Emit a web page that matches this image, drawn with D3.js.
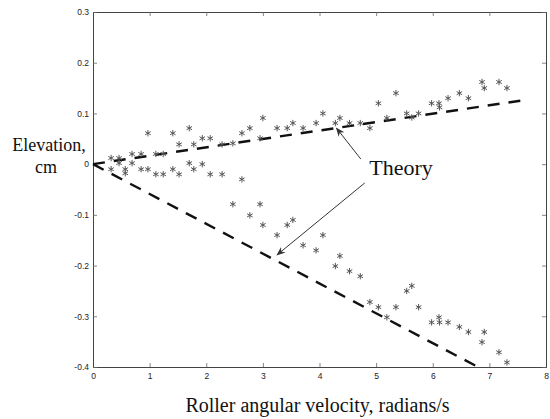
<!DOCTYPE html>
<html>
<head>
<meta charset="utf-8">
<script src="https://cdn.jsdelivr.net/npm/d3@7"></script>
<style>
  body { margin: 0; background: #fff; }
  .tick text { font-family: "Liberation Sans", Arial, sans-serif; font-size: 8.5px; fill: #222; }
  .lbl { font-family: "Liberation Serif", "Times New Roman", serif; fill: #111; }
</style>
</head>
<body>
<svg id="chart" width="550" height="419"></svg>
<script>
// Measured roller velocities (radians/s)
var velocity = [0.32, 0.46, 0.57, 0.69, 0.85, 0.97, 1.11, 1.24, 1.41, 1.52,
                1.70, 1.78, 1.93, 2.07, 2.28, 2.47, 2.63, 2.77, 2.95, 3.00,
                3.25, 3.43, 3.53, 3.71, 3.94, 4.06, 4.28, 4.36, 4.53, 4.72,
                4.89, 5.04, 5.19, 5.35, 5.54, 5.63, 5.75, 5.98, 6.11, 6.12,
                6.27, 6.47, 6.63, 6.87, 6.91, 7.17, 7.31];

// Elevation of the upper branch (cm)
var upperElevation = [0.012, 0.012, -0.010, 0.020, 0.020, 0.061, 0.020, 0.020, 0.061, 0.039,
                      0.071, 0.039, 0.051, 0.051, 0.039, 0.041, 0.061, 0.071, 0.051, 0.091,
                      0.071, 0.071, 0.081, 0.071, 0.081, 0.100, 0.081, 0.091, 0.081, 0.081,
                      0.071, 0.120, 0.091, 0.140, 0.100, 0.092, 0.100, 0.120, 0.120, 0.112,
                      0.130, 0.140, 0.130, 0.162, 0.150, 0.162, 0.150];

// Elevation of the lower branch (cm)
var lowerElevation = [-0.010, 0.002, -0.018, 0.002, -0.010, -0.010, -0.020, -0.020, -0.010, -0.020,
                      0.002, -0.010, 0.000, -0.020, -0.020, -0.079, -0.030, -0.101, -0.079, -0.120,
                      -0.140, -0.120, -0.110, -0.160, -0.170, -0.140, -0.201, -0.181, -0.211, -0.221,
                      -0.272, -0.282, -0.302, -0.282, -0.250, -0.240, -0.282, -0.312, -0.302, -0.312,
                      -0.312, -0.321, -0.331, -0.351, -0.331, -0.371, -0.391];

// Theory lines
var theoryUpperX = [0, 7.6];
var theoryUpperY = [0, 0.126];
var theoryLowerX = [0, 6.8];
var theoryLowerY = [0, -0.4];

// Tick values
var xTicks = [0, 1, 2, 3, 4, 5, 6, 7, 8];
var yTicks = [-0.4, -0.3, -0.2, -0.1, 0, 0.1, 0.2, 0.3];
var yTickLabels = ["-0.4", "-0.3", "-0.2", "-0.1", "0", "0.1", "0.2", "0.3"];

// Annotation: label and arrows (data coordinates)
var theoryLabel = { text: "Theory", x: 4.88, y: -0.022 };
var arrows = [
  { from: [4.73, 0.010], to: [4.3, 0.071] },
  { from: [4.80, -0.037], to: [3.25, -0.179] }
];

var margin = {top: 12, right: 4, bottom: 52, left: 93},
    width = 550 - margin.left - margin.right,
    height = 419 - margin.top - margin.bottom;

var x = d3.scaleLinear().domain([0, 8]).range([0, width]);
var y = d3.scaleLinear().domain([-0.4, 0.3]).range([height, 0]);

var svg = d3.select("#chart");

svg.append("defs").append("marker")
   .attr("id", "head")
   .attr("viewBox", "0 0 10 10")
   .attr("refX", 9).attr("refY", 5)
   .attr("markerWidth", 9).attr("markerHeight", 9)
   .attr("markerUnits", "userSpaceOnUse")
   .attr("orient", "auto")
   .append("path")
   .attr("d", "M0,1 L10,5 L0,9 L3,5 Z")
   .attr("fill", "#333");

var g = svg.append("g")
           .attr("transform", "translate(" + margin.left + "," + margin.top + ")");

// Axes with inward ticks, MATLAB style box
var tickLen = 4;
g.append("g")
 .attr("transform", "translate(0," + height + ")")
 .call(d3.axisBottom(x).tickValues(xTicks).tickSize(-tickLen).tickPadding(6).tickFormat(d3.format("d")));
g.append("g")
 .call(d3.axisTop(x).tickValues(xTicks).tickSize(-tickLen).tickFormat(""));
g.append("g")
 .call(d3.axisLeft(y).tickValues(yTicks).tickSize(-tickLen).tickPadding(4)
        .tickFormat(function(d, i) { return yTickLabels[i]; }));
g.append("g")
 .attr("transform", "translate(" + width + ",0)")
 .call(d3.axisRight(y).tickValues(yTicks).tickSize(-tickLen).tickFormat(""));

g.selectAll(".domain").attr("stroke", "#444").attr("stroke-width", 1);
g.selectAll(".tick line").attr("stroke", "#666").attr("stroke-width", 0.8);

// Theory dashed lines
var line = d3.line()
    .x(function(d) { return x(d[0]); })
    .y(function(d) { return y(d[1]); });

[[theoryUpperX, theoryUpperY], [theoryLowerX, theoryLowerY]].forEach(function(t) {
  g.append("path")
   .datum(d3.zip(t[0], t[1]))
   .attr("d", line)
   .attr("fill", "none")
   .attr("stroke", "#111")
   .attr("stroke-width", 2.4)
   .attr("stroke-dasharray", "12,9");
});

// Measured points
var star = d3.symbol().type(d3.symbolAsterisk).size(28);
[upperElevation, lowerElevation].forEach(function(series) {
  g.append("g").selectAll("path")
   .data(d3.zip(velocity, series))
   .join("path")
   .attr("d", star)
   .attr("transform", function(d) { return "translate(" + x(d[0]) + "," + y(d[1]) + ")"; })
   .attr("fill", "none")
   .attr("stroke", "#555")
   .attr("stroke-width", 1);
});

// Arrows and label
arrows.forEach(function(a) {
  g.append("line")
   .attr("x1", x(a.from[0])).attr("y1", y(a.from[1]))
   .attr("x2", x(a.to[0])).attr("y2", y(a.to[1]))
   .attr("stroke", "#333")
   .attr("stroke-width", 1)
   .attr("marker-end", "url(#head)");
});

g.append("text")
 .attr("class", "lbl")
 .attr("x", x(theoryLabel.x))
 .attr("y", y(theoryLabel.y))
 .attr("font-size", 22)
 .text(theoryLabel.text);

// Axis titles
svg.append("text")
   .attr("class", "lbl")
   .attr("x", margin.left + width / 2 - 2)
   .attr("y", 412)
   .attr("text-anchor", "middle")
   .attr("font-size", 20)
   .text("Roller angular velocity, radians/s");

var yl = svg.append("text")
   .attr("class", "lbl")
   .attr("text-anchor", "middle")
   .attr("font-size", 18);
yl.append("tspan").attr("x", 49).attr("y", 151).text("Elevation,");
yl.append("tspan").attr("x", 46).attr("y", 173).text("cm");
</script>
</body>
</html>
